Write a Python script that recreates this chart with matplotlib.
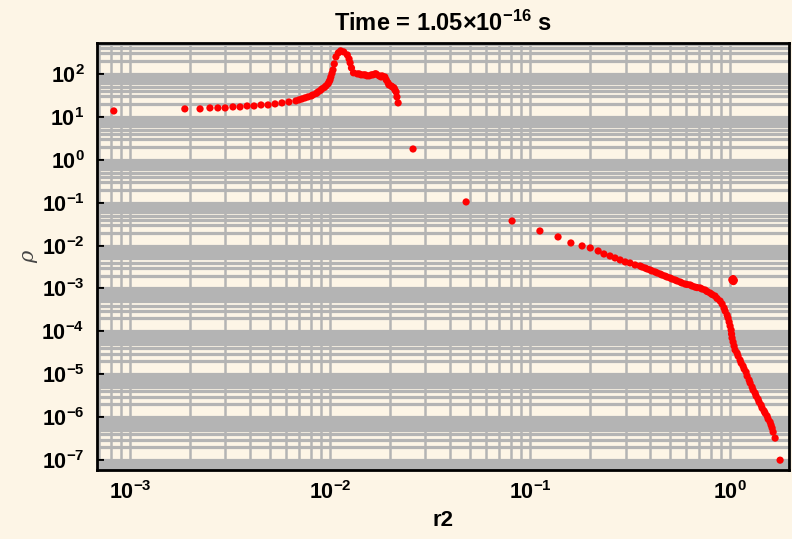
import matplotlib
matplotlib.use("Agg")
import matplotlib.pyplot as plt
from matplotlib.ticker import FixedLocator, LogLocator, NullFormatter, LogFormatterSciNotation

# ---- data (r2, rho) by segment ----
inner_r2 = [8.3e-4, 1.88e-3, 2.24e-3, 2.51e-3, 2.75e-3, 2.99e-3, 3.27e-3, 3.55e-3, 3.85e-3,
            4.17e-3, 4.52e-3, 4.90e-3, 5.31e-3, 5.75e-3, 6.23e-3, 6.75e-3, 7.0e-3, 7.24e-3,
            7.5e-3, 7.76e-3, 8.06e-3, 8.22e-3, 8.55e-3, 8.71e-3, 8.95e-3, 9.12e-3, 9.38e-3,
            9.55e-3, 9.77e-3, 9.89e-3, 1.0e-2, 1.01e-2, 1.023e-2]
inner_rho = [13.7, 15.3, 15.3, 16.1, 16.1, 16.1, 17.0, 17.0, 17.9,
             17.9, 18.9, 18.9, 20.0, 21.1, 22.2, 23.5, 24.8, 26.1,
             27.6, 29.1, 30.7, 32.4, 35.1, 38.0, 41.2, 44.7, 48.4,
             52.5, 58.5, 65.2, 72.4, 85.1, 103]

peak_r2 = [1.035e-2, 1.05e-2, 1.07e-2, 1.10e-2, 1.13e-2, 1.17e-2, 1.22e-2, 1.245e-2,
           1.26e-2, 1.28e-2, 1.31e-2, 1.37e-2, 1.40e-2, 1.43e-2, 1.47e-2, 1.50e-2,
           1.53e-2, 1.57e-2, 1.61e-2, 1.64e-2, 1.68e-2, 1.70e-2, 1.76e-2, 1.80e-2,
           1.82e-2, 1.88e-2, 1.91e-2, 1.95e-2, 1.97e-2, 2.02e-2, 2.05e-2, 2.09e-2,
           2.11e-2, 2.14e-2, 2.16e-2, 2.19e-2]
peak_rho = [124, 171, 249, 309, 344, 326, 277, 224,
            181, 138, 106, 100, 100, 95, 95, 95,
            90, 90, 95, 95, 100, 100, 90, 85,
            90, 85, 72.5, 62, 55.4, 52.5, 49.8, 47.2,
            42.4, 38.0, 29.1, 21.1]

middle_r2 = [2.6e-2, 0.0479, 0.0813, 0.112, 0.138, 0.160, 0.182, 0.200,
             0.219, 0.234, 0.251, 0.266, 0.282, 0.299, 0.316, 0.335, 0.355, 0.363,
             0.376, 0.385, 0.398, 0.407, 0.422, 0.432, 0.447, 0.457, 0.473, 0.484,
             0.501, 0.513, 0.531, 0.543, 0.562, 0.575, 0.596, 0.610, 0.631, 0.646,
             0.668, 0.684, 0.708, 0.724, 0.750, 0.767, 0.794, 0.813, 0.841, 0.861]
middle_rho = [1.78, 0.104, 0.0374, 0.0219, 0.0159, 0.0115, 0.0098, 0.0088,
              7.48e-3, 6.37e-3, 5.72e-3, 5.14e-3, 4.62e-3, 4.15e-3, 3.93e-3, 3.53e-3, 3.34e-3, 3.17e-3,
              3.0e-3, 2.85e-3, 2.70e-3, 2.56e-3, 2.43e-3, 2.30e-3, 2.18e-3, 2.06e-3, 1.95e-3, 1.85e-3,
              1.76e-3, 1.66e-3, 1.58e-3, 1.50e-3, 1.42e-3, 1.34e-3, 1.27e-3, 1.24e-3, 1.21e-3, 1.14e-3,
              1.08e-3, 1.05e-3, 1.03e-3, 9.73e-4, 9.23e-4, 8.51e-4, 7.85e-4, 7.24e-4, 6.68e-4, 5.85e-4]

tail_r2 = [0.891, 0.912, 0.933, 0.944, 0.966, 0.977, 0.989, 1.0, 1.012, 1.017, 1.023,
           1.035, 1.047, 1.059, 1.084, 1.096, 1.122, 1.135, 1.161, 1.175, 1.202, 1.216,
           1.245, 1.259, 1.288, 1.303, 1.334, 1.349, 1.380, 1.396, 1.429, 1.445, 1.479,
           1.496, 1.531, 1.549, 1.585, 1.603, 1.622, 1.641, 1.679, 1.778]
tail_rho = [5.12e-4, 4.35e-4, 3.51e-4, 2.99e-4, 2.41e-4, 2.05e-4, 1.66e-4, 1.34e-4, 1.08e-4, 8.7e-5, 7.02e-5,
            5.66e-5, 4.57e-5, 3.68e-5, 3.14e-5, 2.67e-5, 2.15e-5, 1.83e-5, 1.56e-5, 1.33e-5, 1.13e-5, 9.12e-6,
            7.36e-6, 6.27e-6, 5.06e-6, 4.30e-6, 3.66e-6, 3.12e-6, 2.65e-6, 2.26e-6, 1.92e-6, 1.64e-6, 1.40e-6,
            1.25e-6, 1.07e-6, 9.08e-7, 7.73e-7, 6.58e-7, 5.60e-7, 4.52e-7, 3.27e-7, 1.0e-7]

blob_r2 = [1.02, 1.03, 1.04, 1.05, 1.035]
blob_rho = [1.6e-3, 1.5e-3, 1.45e-3, 1.55e-3, 1.7e-3]

x_ticks = [1e-3, 1e-2, 1e-1, 1e0]
y_ticks = [1e-7, 1e-6, 1e-5, 1e-4, 1e-3, 1e-2, 1e-1, 1e0, 1e1, 1e2]

title_text = "Time = 1.05\u00d710$^{\\mathdefault{-16}}$ s"
xlabel_text = "r2"
ylabel_text = "\u03c1"

# ---- style ----
plt.rcParams['font.family'] = ['Liberation Sans', 'DejaVu Sans']
plt.rcParams['mathtext.fontset'] = 'custom'
plt.rcParams['mathtext.rm'] = 'Liberation Sans'
plt.rcParams['mathtext.it'] = 'Liberation Sans:italic'
plt.rcParams['mathtext.bf'] = 'Liberation Sans:bold'
plt.rcParams['mathtext.default'] = 'regular'

bg = '#fdf5e6'
grid_c = '#b4b4b4'

fig = plt.figure(figsize=(7.92, 5.39), dpi=100, facecolor=bg)
ax = fig.add_axes([97 / 792, 69 / 539, (789 - 97) / 792, (470 - 43) / 539])
ax.set_facecolor(bg)

for xs, ys in [(inner_r2, inner_rho), (peak_r2, peak_rho), (middle_r2, middle_rho),
               (tail_r2, tail_rho), (blob_r2, blob_rho)]:
    ax.scatter(xs, ys, s=27, color='#ff0000', edgecolors='none', zorder=3)

ax.set_xscale('log')
ax.set_yscale('log')
ax.set_xlim(6.84e-4, 1.97)
ax.set_ylim(5.9e-8, 525)

ax.xaxis.set_major_locator(FixedLocator(x_ticks))
ax.yaxis.set_major_locator(FixedLocator(y_ticks))
ax.xaxis.set_major_formatter(LogFormatterSciNotation())
ax.yaxis.set_major_formatter(LogFormatterSciNotation())
ax.xaxis.set_minor_locator(LogLocator(base=10, subs=range(2, 10), numticks=50))
ax.yaxis.set_minor_locator(LogLocator(base=10, subs=range(2, 10), numticks=50))
ax.xaxis.set_minor_formatter(NullFormatter())
ax.yaxis.set_minor_formatter(NullFormatter())

ax.set_axisbelow(True)
ax.xaxis.grid(True, which='both', color=grid_c, linewidth=1.8)
ax.yaxis.grid(True, which='both', color=grid_c, linewidth=2.3)

ax.tick_params(which='major', direction='in', length=5, width=1.5, color='black',
               labelsize=15.5, top=False, right=False)
ax.tick_params(axis='y', which='major', pad=9)
ax.tick_params(axis='x', which='major', pad=8)
ax.tick_params(which='minor', length=0)
for lab in ax.get_xticklabels() + ax.get_yticklabels():
    lab.set_fontweight('bold')

for s in ax.spines.values():
    s.set_linewidth(2.0)
    s.set_color('black')

ax.set_title(title_text, fontsize=17, fontweight='bold', pad=9)
ax.set_xlabel(xlabel_text, fontsize=16, fontweight='bold', labelpad=4)
ax.set_ylabel(ylabel_text, fontsize=15, fontstyle='italic', color='#444444',
              family=['DejaVu Serif'], labelpad=2)

fig.savefig('out.png', dpi=100, facecolor=bg)
